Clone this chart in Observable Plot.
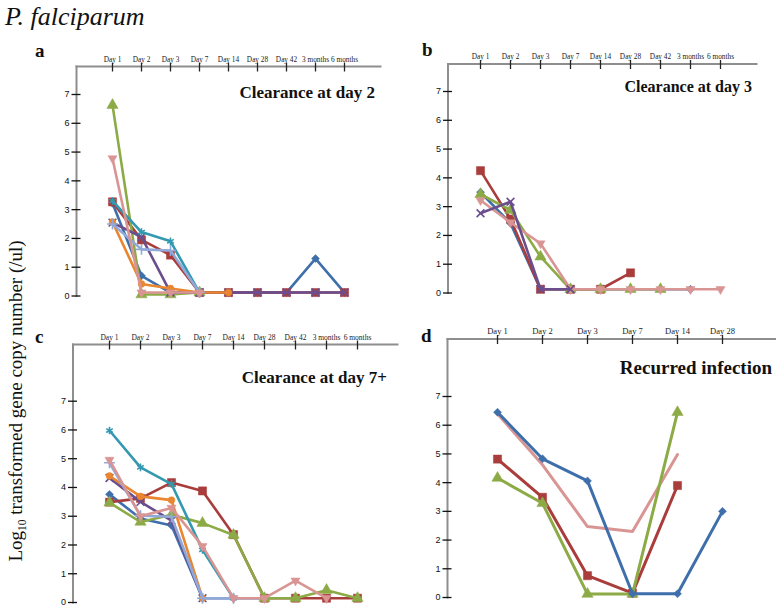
<!DOCTYPE html>
<html><head><meta charset="utf-8">
<script src="https://cdn.jsdelivr.net/npm/d3@7"></script>
<script src="https://cdn.jsdelivr.net/npm/@observablehq/plot@0.6"></script>
<style>
body{margin:0;background:#fff;}
#wrap{position:relative;width:776px;height:606px;overflow:hidden;background:#fff;}
#wrap svg{position:absolute;left:0;top:0;}
</style></head><body><div id="wrap"></div>
<script>
// ---------- data ----------
const daysAll = ["Day 1","Day 2","Day 3","Day 7","Day 14","Day 28","Day 42","3 months","6 months"];
const daysD   = ["Day 1","Day 2","Day 3","Day 7","Day 14","Day 28"];
const yTicks  = [0,1,2,3,4,5,6,7];

// panel a: Clearance at day 2 (null = no sample)
const aBlue   = [3.22, 0.70, 0.12, 0.12, 0.12, 0.12, 0.12, 1.30, 0.12];
const aRed    = [3.27, 1.95, 1.42, 0.12, 0.12, 0.12, 0.12, 0.12, 0.12];
const aGreen  = [6.63, 0.05, 0.05, 0.12, null, null, null, null, null];
const aPurple = [2.55, 2.05, 0.12, 0.12, 0.12, 0.12, 0.12, 0.12, 0.12];
const aTeal   = [3.30, 2.22, 1.90, 0.12, null, null, null, null, null];
const aOrange = [2.57, 0.42, 0.26, 0.12, 0.12, null, null, null, null];
const aLtBlue = [2.50, 1.62, 1.58, 0.12, null, null, null, null, null];
const aPink   = [4.78, 0.12, 0.12, 0.12, null, null, null, null, null];

// panel b: Clearance at day 3
const bBlue   = [3.50, 2.42, 0.13, 0.13, 0.13, 0.13, 0.13, 0.13, null];
const bRed    = [4.25, 2.57, 0.13, 0.13, 0.13, 0.70, null, null, null];
const bGreen  = [3.43, 2.88, 1.26, 0.13, 0.13, 0.13, 0.13, null, null];
const bPurple = [2.77, 3.17, 0.13, 0.13, null, null, null, null, null];
const bPink   = [3.22, 2.45, 1.72, 0.13, 0.13, 0.13, 0.13, 0.13, 0.13];

// panel c: Clearance at day 7+
const cBlue   = [3.76, 2.92, 2.68, 0.15, 0.15, 0.15, null, null, null];
const cRed    = [3.49, 3.62, 4.17, 3.88, 2.36, 0.15, 0.15, 0.15, 0.15];
const cGreen  = [3.47, 2.80, 3.05, 2.76, 2.35, 0.15, 0.15, 0.43, 0.15];
const cPurple = [4.33, 3.50, 2.85, 0.15, null, null, null, null, null];
const cTeal   = [5.98, 4.70, 4.12, 1.83, 0.15, null, null, null, null];
const cOrange = [4.40, 3.69, 3.56, 0.15, null, null, null, null, null];
const cLtBlue = [4.86, 3.02, 2.98, 0.15, 0.15, null, null, null, null];
const cPink   = [4.96, 3.00, 3.29, 1.96, 0.15, 0.15, 0.76, 0.15, null];

// panel d: Recurred infection
const dBlue   = [6.45, 4.83, 4.06, 0.13, 0.13, 3.00];
const dRed    = [4.82, 3.49, 0.76, 0.15, 3.90, null];
const dGreen  = [4.16, 3.28, 0.12, 0.12, 6.45, null];
const dPink   = [6.40, 4.62, 2.47, 2.30, 4.98, null];

const titles = ["Clearance at day 2","Clearance at day 3","Clearance at day 7+","Recurred infection"];
const letters = ["a","b","c","d"];

// ---------- styles ----------
const ST = {
  blue:   {color:"#3f6fab", symbol:"diamond2", r:3.6, fill:true},
  red:    {color:"#a93d3b", symbol:"square",   r:4.6, fill:true},
  green:  {color:"#8cab46", symbol:"triangle", r:4.2, fill:true},
  purple: {color:"#6b4e8e", symbol:"times",    r:3.6, fill:false},
  teal:   {color:"#3399b0", symbol:"asterisk", r:3.6, fill:false},
  orange: {color:"#e9862f", symbol:"circle",   r:3.4, fill:true},
  ltblue: {color:"#91a9d8", symbol:"plus",     r:3.6, fill:false},
  pink:   {color:"#d99593", symbol:"triangle", r:3.4, fill:true, rotate:180}
};

const panels = [
  {days: daysAll, top:66, left:76, right:380, bottom:295.5, xr:[93,362], yr:[295.5,94], lw:2.6, fs:7.3,
   series:[["blue",aBlue],["red",aRed],["green",aGreen],["purple",aPurple],["teal",aTeal],["orange",aOrange],["ltblue",aLtBlue],["pink",aPink]]},
  {days: daysAll, top:63.5, left:447.5, right:756, bottom:292.5, xr:[463,737], yr:[292.5,91], lw:2.6, fs:7.3,
   series:[["blue",bBlue],["red",bRed],["green",bGreen],["pink",bPink],["purple",bPurple]]},
  {days: daysAll, top:344, left:72.5, right:397, bottom:602, xr:[89.5,375.5], yr:[602,400.7], lw:2.6, fs:7.5,
   series:[["blue",cBlue],["red",cRed],["green",cGreen],["purple",cPurple],["teal",cTeal],["orange",cOrange],["ltblue",cLtBlue],["pink",cPink]]},
  {days: daysD, top:338.5, left:447, right:776, bottom:597, xr:[472.7,746], yr:[597,396], lw:3, fs:8.5, noPinkDots:true,
   series:[["pink",dPink],["red",dRed],["green",dGreen],["blue",dBlue]]}
];

function rows(days, vals){
  return days.map((d,i)=>({day:d, v:vals[i]})).filter(r=>r.v!=null);
}

const wrap = document.getElementById("wrap");

panels.forEach((p, pi) => {
  const marks = [
    Plot.frame({anchor:"top", stroke:"#8e8e8e", strokeWidth:2}),
    Plot.frame({anchor:"left", stroke:"#8e8e8e", strokeWidth:2}),
    Plot.axisX({anchor:"top", tickSize:9, dy:4.5, tickPadding:0.5, fontSize:p.fs,
      fontFamily:"Liberation Serif", color:"#222", strokeWidth:1.3, label:null}),
    Plot.axisY({anchor:"left", ticks:yTicks, tickFormat:d=>String(d), tickSize:9, dx:4.5, tickPadding:2.5, fontSize:9,
      fontFamily:"Liberation Sans", color:"#111", strokeWidth:1.3, label:null})
  ];
  for (const [key, vals] of p.series) {
    const s = ST[key];
    const data = rows(p.days, vals);
    marks.push(Plot.line(data, {x:"day", y:"v", stroke:s.color, strokeWidth:p.lw, strokeLinejoin:"round"}));
    if (!(p.noPinkDots && key === "pink")) {
      marks.push(Plot.dot(data, {x:"day", y:"v", symbol:s.symbol, r:s.r,
        fill: s.fill ? s.color : "none", stroke:s.color, strokeWidth: s.fill ? 0.5 : 1.6,
        rotate: s.rotate || 0}));
    }
  }
  const svg = Plot.plot({
    width:776, height:606,
    marginTop:p.top, marginLeft:p.left, marginRight:776 - p.right, marginBottom:606 - p.bottom,
    x:{type:"point", domain:p.days, range:p.xr},
    y:{type:"linear", domain:[0,7], range:p.yr},
    style:{background:"transparent", overflow:"visible"},
    marks
  });
  wrap.appendChild(svg);
});

// ---------- text overlay ----------
const ov = d3.select(wrap).append("svg").attr("width",776).attr("height",606)
  .style("position","absolute").style("left","0").style("top","0");

ov.append("text").attr("x",5).attr("y",25)
  .attr("font-family","Liberation Serif").attr("font-style","italic").attr("font-size",26)
  .attr("fill","#111").text("P. falciparum");

const letterPos = [[35,57],[422,56],[35,343],[421,342]];
letters.forEach((l,i)=>{
  ov.append("text").attr("x",letterPos[i][0]).attr("y",letterPos[i][1])
    .attr("font-family","Liberation Serif").attr("font-weight","bold").attr("font-size",19)
    .attr("fill","#111").text(l);
});

const titlePos = [[375,98,17],[752,92,16],[387,383,17],[772,374,19]];
titles.forEach((t,i)=>{
  ov.append("text").attr("x",titlePos[i][0]).attr("y",titlePos[i][1])
    .attr("text-anchor","end")
    .attr("font-family","Liberation Serif").attr("font-weight","bold").attr("font-size",titlePos[i][2])
    .attr("fill","#111").text(t);
});

const yl = ov.append("text")
  .attr("transform","translate(22,401) rotate(-90)")
  .attr("text-anchor","middle")
  .attr("font-family","Liberation Serif").attr("font-size",19).attr("fill","#111");
yl.append("tspan").text("Log");
yl.append("tspan").attr("font-size",11.5).attr("dy",4).text("10");
yl.append("tspan").attr("dy",-4).text(" transformed gene copy number (/ul)");
</script>
</body></html>
